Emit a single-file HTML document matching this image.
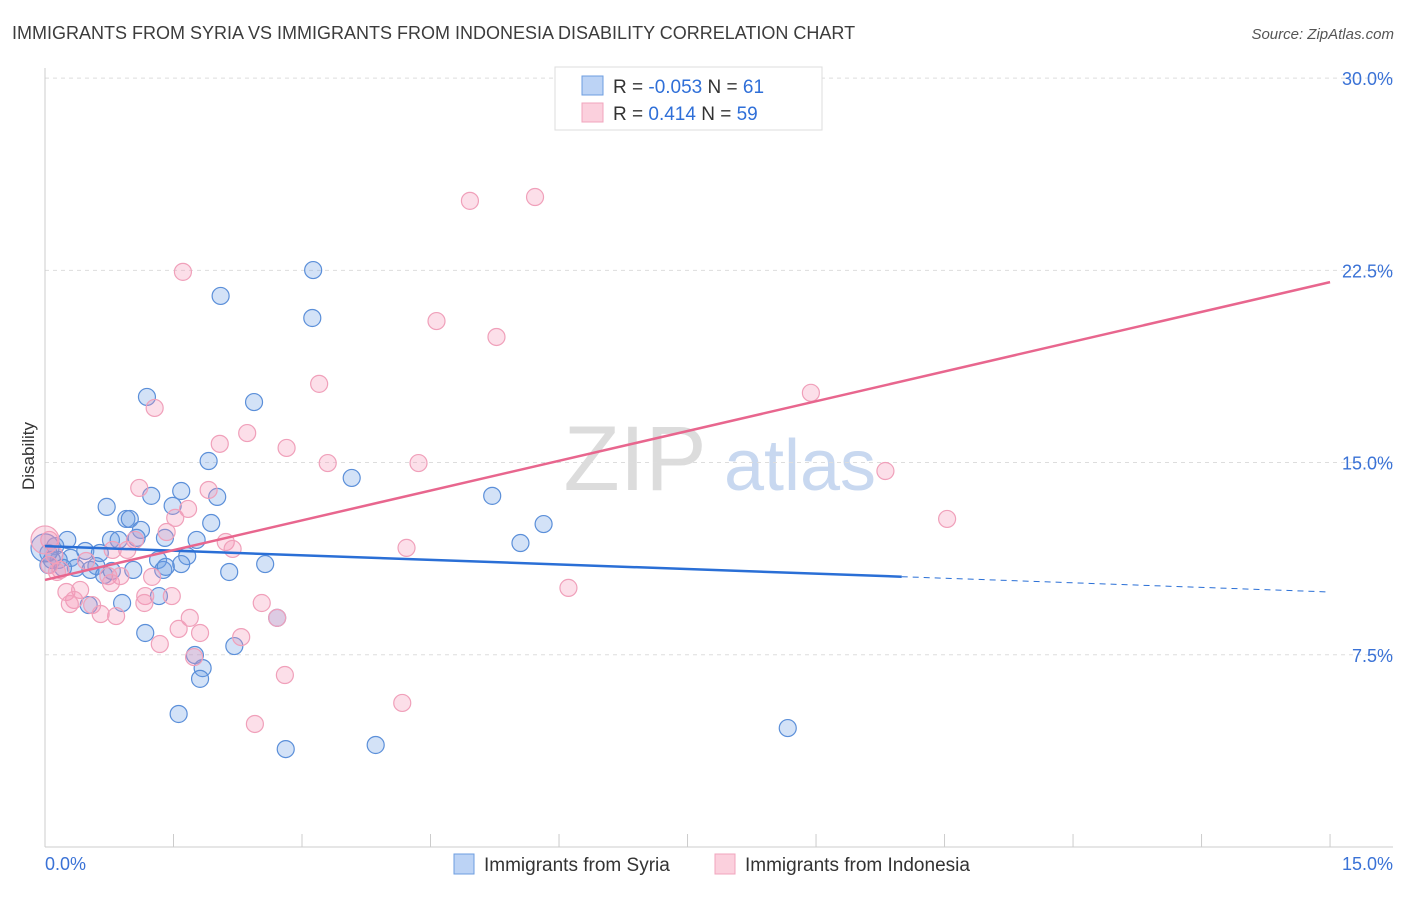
<!DOCTYPE html>
<html><head><meta charset="utf-8"><style>
body{margin:0;background:#fff;font-family:"Liberation Sans",sans-serif;}
svg text{font-family:"Liberation Sans",sans-serif;}
</style></head><body>
<svg id="chart" width="1406" height="892" xmlns="http://www.w3.org/2000/svg">
<text x="12" y="39" font-size="18" fill="#3c3c3c">IMMIGRANTS FROM SYRIA VS IMMIGRANTS FROM INDONESIA DISABILITY CORRELATION CHART</text>
<text x="1394" y="39" font-size="15" fill="#555" text-anchor="end" font-style="italic">Source: ZipAtlas.com</text>
<text transform="translate(34,456) rotate(-90)" font-size="17" fill="#333" text-anchor="middle">Disability</text>
<g>
<text x="635" y="490" font-size="92" fill="#dcdcdc" font-family="Liberation Serif" text-anchor="middle">ZIP</text>
<text x="800" y="490" font-size="72" fill="#c8d8f0" text-anchor="middle">atlas</text>
</g>
<g id="grid"></g><g id="axes"></g><g id="pts"></g><g id="lines"></g>
<g>
<rect x="555" y="67" width="267" height="63" fill="#fff" stroke="#ddd"/>
<rect x="582" y="76" width="21" height="19" fill="#bcd3f5" stroke="#6d9ee0"/>
<rect x="582" y="103" width="21" height="19" fill="#fbd0dd" stroke="#f0a5bd"/>
<text x="613" y="93" font-size="19" fill="#333">R = <tspan fill="#2f6fd8">-0.053</tspan>   N =  <tspan fill="#2f6fd8">61</tspan></text>
<text x="613" y="120" font-size="19" fill="#333">R =   <tspan fill="#2f6fd8">0.414</tspan>   N = <tspan fill="#2f6fd8">59</tspan></text>
</g>
<g>
<rect x="454" y="854" width="20" height="20" fill="#bcd3f5" stroke="#6d9ee0"/>
<text x="484" y="871" font-size="19" fill="#333">Immigrants from Syria</text>
<rect x="715" y="854" width="20" height="20" fill="#fbd0dd" stroke="#f0a5bd"/>
<text x="745" y="871" font-size="19" fill="#333">Immigrants from Indonesia</text>
</g>
</svg>
<script>
const yTicks=[7.5,15,22.5,30];
const yTickLabels=["7.5%","15.0%","22.5%","30.0%"];
const xTickLabels=["0.0%","15.0%"];
const syriaX=[3.13,2.05,3.12,1.19,2.44,1.91,3.58,1.59,1.24,2.01,0.72,1.49,0.95,0.99,1.94,1.12,5.82,5.22,5.55,0.77,0.86,1.07,1.40,1.77,0.26,0.12,0.04,0.47,0.64,0.30,0.16,1.32,1.66,1.59,2.57,0.36,0.60,0.53,1.03,1.38,1.41,0.69,2.15,0.04,1.33,0.90,0.51,2.71,1.17,2.21,1.75,1.84,1.81,1.56,2.81,3.86,8.67,0.08,0.0,0.21,0.78];
const syriaY=[22.51,21.50,20.64,17.56,17.36,15.06,14.40,13.89,13.70,13.66,13.27,13.31,12.80,12.80,12.64,12.37,12.60,13.70,11.86,11.98,11.98,12.06,12.06,11.98,11.98,11.74,11.47,11.55,11.47,11.28,11.20,11.20,11.35,11.04,11.04,10.89,10.96,10.81,10.81,10.81,10.93,10.61,10.73,11.00,9.79,9.52,9.44,8.94,8.35,7.84,7.49,6.98,6.56,5.19,3.82,3.98,4.64,11.20,11.67,10.89,10.77];
const indoX=[5.72,4.96,1.61,4.57,5.27,3.20,8.94,1.28,2.36,2.04,2.82,3.30,4.36,9.81,1.10,1.91,1.67,1.52,10.53,1.42,1.05,2.11,2.19,0.96,4.22,0.05,0.11,0.48,0.18,0.74,0.88,1.25,0.77,0.41,0.25,6.11,0.34,0.55,1.17,1.48,0.29,1.16,2.53,1.69,0.83,0.65,2.71,1.56,1.81,2.29,1.34,1.74,2.80,4.17,2.45,0.05,0.14,0.0,0.79];
const indoY=[25.36,25.21,22.44,20.52,19.90,18.07,17.72,17.13,16.15,15.73,15.57,14.98,14.98,14.67,14.01,13.93,13.19,12.84,12.80,12.29,11.98,11.90,11.63,11.59,11.67,11.98,11.39,11.16,10.81,10.57,10.57,10.54,10.30,10.03,9.95,10.11,9.64,9.44,9.79,9.79,9.48,9.52,9.52,8.94,9.01,9.09,8.94,8.51,8.35,8.19,7.92,7.41,6.71,5.62,4.80,11.00,10.73,11.98,11.59];
const syriaTrend=[11.74,9.95];
const indoTrend=[10.42,22.04];
const NS="http://www.w3.org/2000/svg";
const sx=v=>45+v*85.67, sy=v=>847-v*25.63;
function mk(parent,tag,attrs){const e=document.createElementNS(NS,tag);for(const k in attrs)e.setAttribute(k,attrs[k]);document.getElementById(parent).appendChild(e);return e;}
yTicks.forEach((t,i)=>{
 const g=mk('grid','line',{x1:45,x2:1393,y1:sy(t),y2:sy(t),stroke:'#ddd','stroke-dasharray':'4,4'});
 
 
 const l=mk('grid','text',{x:1393,y:sy(t)+7,'font-size':18,fill:'#3a72d6','text-anchor':'end'});
 l.textContent=yTickLabels[i];
 
 
});
let a=mk('axes','line',{x1:45,x2:45,y1:68,y2:847,stroke:'#ccc'});


a=mk('axes','line',{x1:45,x2:1393,y1:847,y2:847,stroke:'#ccc'});


for(let k=0;k<=10;k++){const x=sx(k*1.5);
 const t=mk('axes','line',{x1:x,x2:x,y1:834,y2:847,stroke:'#ccc'});
 
 }
[[0,'start'],[15,'end']].forEach((p,i)=>{
 const t=mk('axes','text',{x:i?1393:45,y:870,'font-size':18,fill:'#3a72d6','text-anchor':p[1]});
 t.textContent=xTickLabels[i];
 
 
});
function pts(X,Y,fill,stroke,name){X.forEach((x,i)=>{
 const big=(x===0);
 const c=mk('pts','circle',{cx:sx(x),cy:sy(Y[i]),r:big?14:8.5,fill:fill,stroke:stroke,'stroke-width':1.2});
 
 
});}
pts(syriaX,syriaY,'rgba(110,160,230,0.3)','#5b8fd9','syria-point');
pts(indoX,indoY,'rgba(244,150,182,0.3)','#f0a0ba','indonesia-point');
let ln=mk('lines','line',{x1:sx(0),y1:sy(syriaTrend[0]),x2:sx(10),y2:sy(syriaTrend[0]+(syriaTrend[1]-syriaTrend[0])*10/15),stroke:'#2a6fd6','stroke-width':2.5});


ln=mk('lines','line',{x1:sx(10),y1:sy(syriaTrend[0]+(syriaTrend[1]-syriaTrend[0])*10/15),x2:sx(15),y2:sy(syriaTrend[1]),stroke:'#2a6fd6','stroke-width':1,'stroke-dasharray':'6,5'});


ln=mk('lines','line',{x1:sx(0),y1:sy(indoTrend[0]),x2:sx(15),y2:sy(indoTrend[1]),stroke:'#e8668e','stroke-width':2.5});


</script>
</body></html>
